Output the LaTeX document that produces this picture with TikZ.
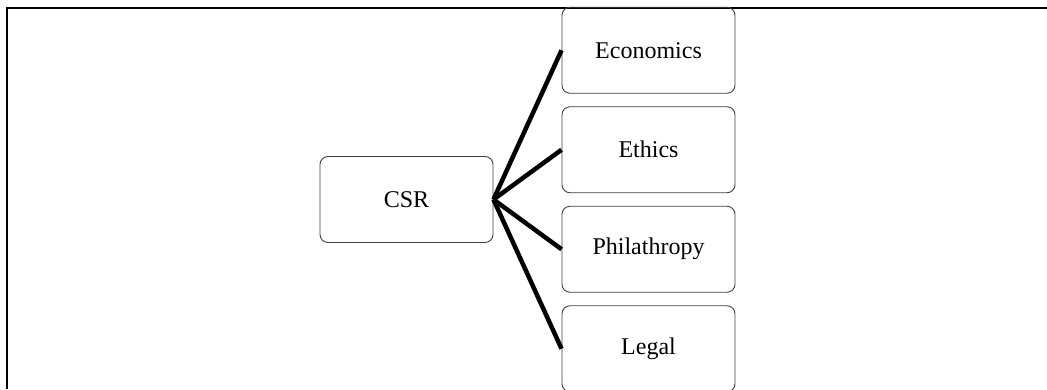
\documentclass[tikz,border=0pt]{standalone}
\usepackage{fontspec}
\setmainfont{Liberation Serif}
\usetikzlibrary{trees}

\begin{document}
\begin{tikzpicture}
[x=1pt,y=-1pt,grow'=0,level distance=242pt]
\tikzset{
	topic/.style = {draw=black!75, rounded corners=8pt, line width=0.9pt, minimum width=173pt, minimum height=86pt, font=\fontsize{24}{28}\selectfont},
	level 1/.style = {sibling distance=99.5pt},
	edge from parent/.style = {draw, line width=4.5pt},
	edge from parent path = {(\tikzparentnode.east) -- (\tikzchildnode.west)}
}

\useasboundingbox (0,0) rectangle (1047,389);
% frame
\draw [line width=2pt] (7,389) -- (7,8) -- (1047,8);

\node(csr) [topic] at (406.5,199.5) {CSR}
	child{
		node [topic]{Economics}
	}
	child{
		node [topic]{Ethics}
	}
	child{
		node [topic]{Philathropy}
	}
	child{
		node [topic]{Legal}
	}
;
\end{tikzpicture}
\end{document}
